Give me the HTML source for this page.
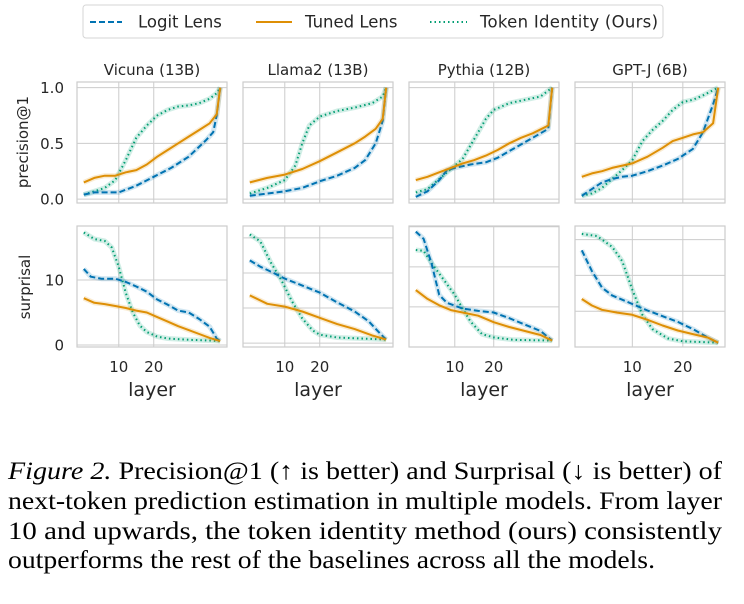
<!DOCTYPE html>
<html><head><meta charset="utf-8"><style>
body{margin:0;background:#fff;}
svg{display:block;}
.t{font-family:"DejaVu Sans","Liberation Sans",sans-serif;fill:#262626;}
.cap{font-family:"Liberation Serif",serif;fill:#000;font-size:25px;}
</style></head><body>
<svg id="fig" width="744" height="604" viewBox="0 0 744 604" xmlns="http://www.w3.org/2000/svg">
<g>
<rect x="83" y="5" width="580" height="33" rx="3" fill="#fff" stroke="#d6d6d6" stroke-width="1"/>
<line x1="90" y1="22" x2="122" y2="22" stroke="#0173b2" stroke-width="2" stroke-dasharray="6,3"/>
<text class="t" x="138" y="27.5" font-size="16.5">Logit Lens</text>
<line x1="256" y1="22" x2="292" y2="22" stroke="#de8f05" stroke-width="2"/>
<text class="t" x="305" y="27.5" font-size="16.5">Tuned Lens</text>
<line x1="430" y1="22" x2="467" y2="22" stroke="#029e73" stroke-width="2" stroke-dasharray="1.5,3"/>
<text class="t" x="480" y="27.5" font-size="16.5" textLength="178">Token Identity (Ours)</text>
</g>
<text class="t" x="28" y="142" font-size="15" text-anchor="middle" transform="rotate(-90 28 142)">precision@1</text>
<text class="t" x="30" y="287" font-size="15" text-anchor="middle" transform="rotate(-90 30 287)">surprisal</text>
<g id="panels"></g>
<g>
<text class="cap" x="8" y="479" textLength="714" lengthAdjust="spacingAndGlyphs"><tspan font-style="italic">Figure 2.</tspan> Precision@1 (↑ is better) and Surprisal (↓ is better) of</text>
<text class="cap" x="8" y="509" textLength="714" lengthAdjust="spacingAndGlyphs">next-token prediction estimation in multiple models. From layer</text>
<text class="cap" x="8" y="539" textLength="714" lengthAdjust="spacingAndGlyphs">10 and upwards, the token identity method (ours) consistently</text>
<text class="cap" x="8" y="568" textLength="647" lengthAdjust="spacingAndGlyphs">outperforms the rest of the baselines across all the models.</text>
</g>
</svg>
<script>
const models = ["Vicuna (13B)", "Llama2 (13B)", "Pythia (12B)", "GPT-J (6B)"];
const numLayers = [40, 40, 36, 28];
const precTicks = [0, 0.5, 1.0];
const precTickLabels = ["0.0", "0.5", "1.0"];
const xTicks = [10, 20];
const surpTicks = [[0, 10], [0, 5, 10, 15], [0, 5, 10, 15], [0, 5, 10, 15]];
const surpTickLabels = ["0", "10"];
const surpRange = [[-0.3, 18.3], [-0.56, 16.7], [0, 15.1], [0, 16.9]];
// series: [layer, value] pairs
const precLogit = [
 [[0,0.04],[3,0.06],[6,0.06],[10,0.06],[15,0.12],[20,0.2],[25,0.28],[30,0.38],[35,0.53],[37,0.6],[38,0.75],[39,1.0]],
 [[0,0.03],[5,0.05],[10,0.07],[15,0.1],[20,0.16],[25,0.21],[30,0.28],[33,0.35],[36,0.5],[38,0.7],[39,1.0]],
 [[0,0.02],[3,0.07],[6,0.17],[8,0.26],[10,0.28],[14,0.31],[18,0.33],[21,0.37],[25,0.45],[30,0.55],[34,0.63],[35,1.0]],
 [[0,0.03],[2,0.09],[4,0.15],[6,0.18],[8,0.2],[10,0.21],[13,0.25],[16,0.3],[19,0.36],[22,0.45],[24,0.6],[26,0.85],[27,1.0]]
];
const precTuned = [
 [[0,0.15],[3,0.19],[6,0.21],[9,0.21],[12,0.24],[15,0.26],[18,0.31],[21,0.38],[24,0.44],[27,0.5],[30,0.56],[33,0.62],[36,0.68],[38,0.76],[39,1.0]],
 [[0,0.15],[5,0.19],[10,0.22],[15,0.27],[20,0.34],[25,0.42],[30,0.5],[33,0.56],[36,0.63],[38,0.72],[39,1.0]],
 [[0,0.17],[3,0.2],[6,0.24],[9,0.28],[12,0.32],[15,0.35],[18,0.39],[21,0.44],[24,0.5],[27,0.55],[30,0.59],[34,0.66],[35,1.0]],
 [[0,0.2],[2,0.23],[4,0.25],[6,0.28],[8,0.3],[10,0.32],[13,0.38],[16,0.46],[18,0.52],[20,0.55],[22,0.58],[24,0.6],[26,0.68],[27,1.0]]
];
const precToken = [
 [[0,0.04],[3,0.07],[6,0.1],[9,0.17],[12,0.35],[15,0.55],[18,0.66],[21,0.75],[24,0.8],[27,0.83],[30,0.84],[33,0.86],[36,0.9],[38,0.95],[39,1.0]],
 [[0,0.05],[5,0.1],[10,0.17],[13,0.3],[15,0.5],[17,0.66],[20,0.74],[25,0.79],[30,0.82],[35,0.86],[38,0.92],[39,1.0]],
 [[0,0.06],[3,0.09],[6,0.18],[9,0.27],[12,0.36],[14,0.48],[16,0.6],[18,0.72],[20,0.8],[24,0.86],[28,0.89],[32,0.92],[35,1.0]],
 [[0,0.03],[2,0.05],[4,0.1],[6,0.18],[8,0.26],[10,0.35],[12,0.52],[14,0.62],[16,0.7],[18,0.8],[20,0.87],[22,0.89],[24,0.93],[27,1.0]]
];
const surpLogit = [
 [[0,11.7],[2,10.5],[5,10.2],[9,10.2],[12,9.7],[15,9],[18,8.2],[21,7],[24,6.2],[27,5.3],[30,5],[33,4],[36,2.8],[38,1],[39,0.6]],
 [[0,11.8],[3,10.9],[6,10.2],[10,9.2],[15,8.2],[20,7.2],[25,5.8],[30,4.5],[34,3.1],[37,1.5],[39,0.5]],
 [[0,14.4],[2,13.5],[4,10.5],[6,6.5],[8,5.5],[12,4.8],[16,4.5],[20,4.3],[24,3.6],[28,2.8],[32,2],[35,0.8]],
 [[0,13.5],[2,10.6],[4,8.3],[6,7.2],[8,6.6],[10,6],[13,5.1],[16,4.3],[19,3.5],[22,2.5],[25,1.3],[27,0.6]]
];
const surpTuned = [
 [[0,7.2],[3,6.5],[6,6.3],[9,6],[12,5.7],[15,5.3],[18,5],[21,4.3],[24,3.6],[27,2.9],[30,2.3],[33,1.7],[36,1.1],[39,0.6]],
 [[0,6.8],[5,5.6],[10,5.2],[15,4.5],[20,3.6],[25,2.7],[30,2],[35,1.1],[39,0.5]],
 [[0,7.1],[3,6],[6,5.2],[9,4.6],[12,4.3],[16,3.9],[20,3.1],[24,2.5],[28,2],[32,1.5],[35,0.8]],
 [[0,6.7],[2,5.8],[4,5.2],[7,4.8],[10,4.5],[13,3.8],[16,3],[19,2.3],[22,1.8],[25,1.3],[27,0.6]]
];
const surpToken = [
 [[0,17.3],[3,16.3],[6,16],[8,15],[10,12],[12,8],[14,5],[16,3],[18,2],[21,1.3],[24,1],[30,0.8],[36,0.7],[39,0.6]],
 [[0,15.5],[3,14.5],[6,11.5],[9,9],[12,6],[15,3.5],[18,1.8],[20,1.2],[25,0.8],[39,0.5]],
 [[0,12.1],[2,12],[4,10.5],[7,8.5],[10,6.5],[12,4.8],[14,3.2],[17,1.6],[20,1.2],[25,0.9],[35,0.8]],
 [[0,15.8],[3,15.5],[6,14],[8,12],[10,8],[12,4.5],[14,2.5],[17,1.2],[20,0.8],[27,0.6]]
];

const NS = "http://www.w3.org/2000/svg";
const root = document.getElementById("panels");
const panelX = [77, 243, 409, 575], PW = 150;
const rowY = [82, 226], PH = 121;
const colors = {logit:"#0173b2", tuned:"#de8f05", token:"#029e73"};
const dashes = {logit:"6,3", tuned:"", token:"1.5,3"};
function mk(tag, attrs, parent){const e=document.createElementNS(NS,tag);for(const k in attrs)e.setAttribute(k,attrs[k]);parent.appendChild(e);return e;}

for (let m=0;m<4;m++){
  const n = numLayers[m], marg = (n-1)*0.05;
  const xs = v => panelX[m] + (v + marg) / (n-1 + 2*marg) * PW;
  for (let r=0;r<2;r++){
    const [ymin,ymax] = r===0 ? [-0.035,1.05] : surpRange[m];
    const ys = v => rowY[r] + PH - (v - ymin)/(ymax-ymin)*PH;
    const g = mk("g",{},root);
    
    
    mk("rect",{x:panelX[m],y:rowY[r],width:PW,height:PH,fill:"#fff"},g);
    const clipId="c"+m+r;
    const cp=mk("clipPath",{id:clipId},g);
    mk("rect",{x:panelX[m],y:rowY[r],width:PW,height:PH},cp);
    xTicks.forEach(t=>{
      const gl = mk("line",{x1:xs(t),x2:xs(t),y1:rowY[r],y2:rowY[r]+PH,stroke:"#cccccc","stroke-width":1},g);
      
      
    });
    const yt = r===0 ? precTicks : surpTicks[m];
    yt.forEach((t,i)=>{
      const y=ys(t);
      if (y<rowY[r]-0.5||y>rowY[r]+PH+0.5) return;
      const gl = mk("line",{x1:panelX[m],x2:panelX[m]+PW,y1:y,y2:y,stroke:"#cccccc","stroke-width":1},g);
      
      
      if (m===0){
        const lab = r===0 ? precTickLabels[i] : (surpTickLabels[i]||"");
        if (lab){
          const tx = mk("text",{x:64,y:y+5.5,"font-size":15,"text-anchor":"end",class:"t"},g);
          tx.textContent = lab;
          
          
        }
      }
    });
    const series = r===0 ? {logit:precLogit[m],tuned:precTuned[m],token:precToken[m]} : {logit:surpLogit[m],tuned:surpTuned[m],token:surpToken[m]};
    ["token","logit","tuned"].forEach(k=>{
      const pts = series[k].map(p=>xs(p[0]).toFixed(1)+","+ys(p[1]).toFixed(1)).join(" ");
      const halo = mk("polyline",{points:pts,fill:"none",stroke:colors[k],"stroke-width":5,"stroke-opacity":0.18,"stroke-linejoin":"round","clip-path":"url(#"+clipId+")"},g);
      
      
      const pl = mk("polyline",{points:pts,fill:"none",stroke:colors[k],"stroke-width":2,"stroke-linejoin":"round","clip-path":"url(#"+clipId+")"},g);
      if (dashes[k]) pl.setAttribute("stroke-dasharray",dashes[k]);
      
      
    });
    mk("rect",{x:panelX[m],y:rowY[r],width:PW,height:PH,fill:"none",stroke:"#cccccc","stroke-width":1.2},g);
    if (r===0){
      const tt = mk("text",{x:panelX[m]+PW/2,y:75,"font-size":15,"text-anchor":"middle",class:"t"},g);
      tt.textContent = models[m];
      
      
    } else {
      xTicks.forEach(t=>{
        const tx = mk("text",{x:xs(t),y:372,"font-size":15,"text-anchor":"middle",class:"t"},g);
        tx.textContent = String(t);
        
        
      });
      const xl = mk("text",{x:panelX[m]+PW/2,y:396,"font-size":19,"text-anchor":"middle",class:"t"},g);
      xl.textContent = "layer";
      
      
    }
  }
}
</script>
</body></html>
